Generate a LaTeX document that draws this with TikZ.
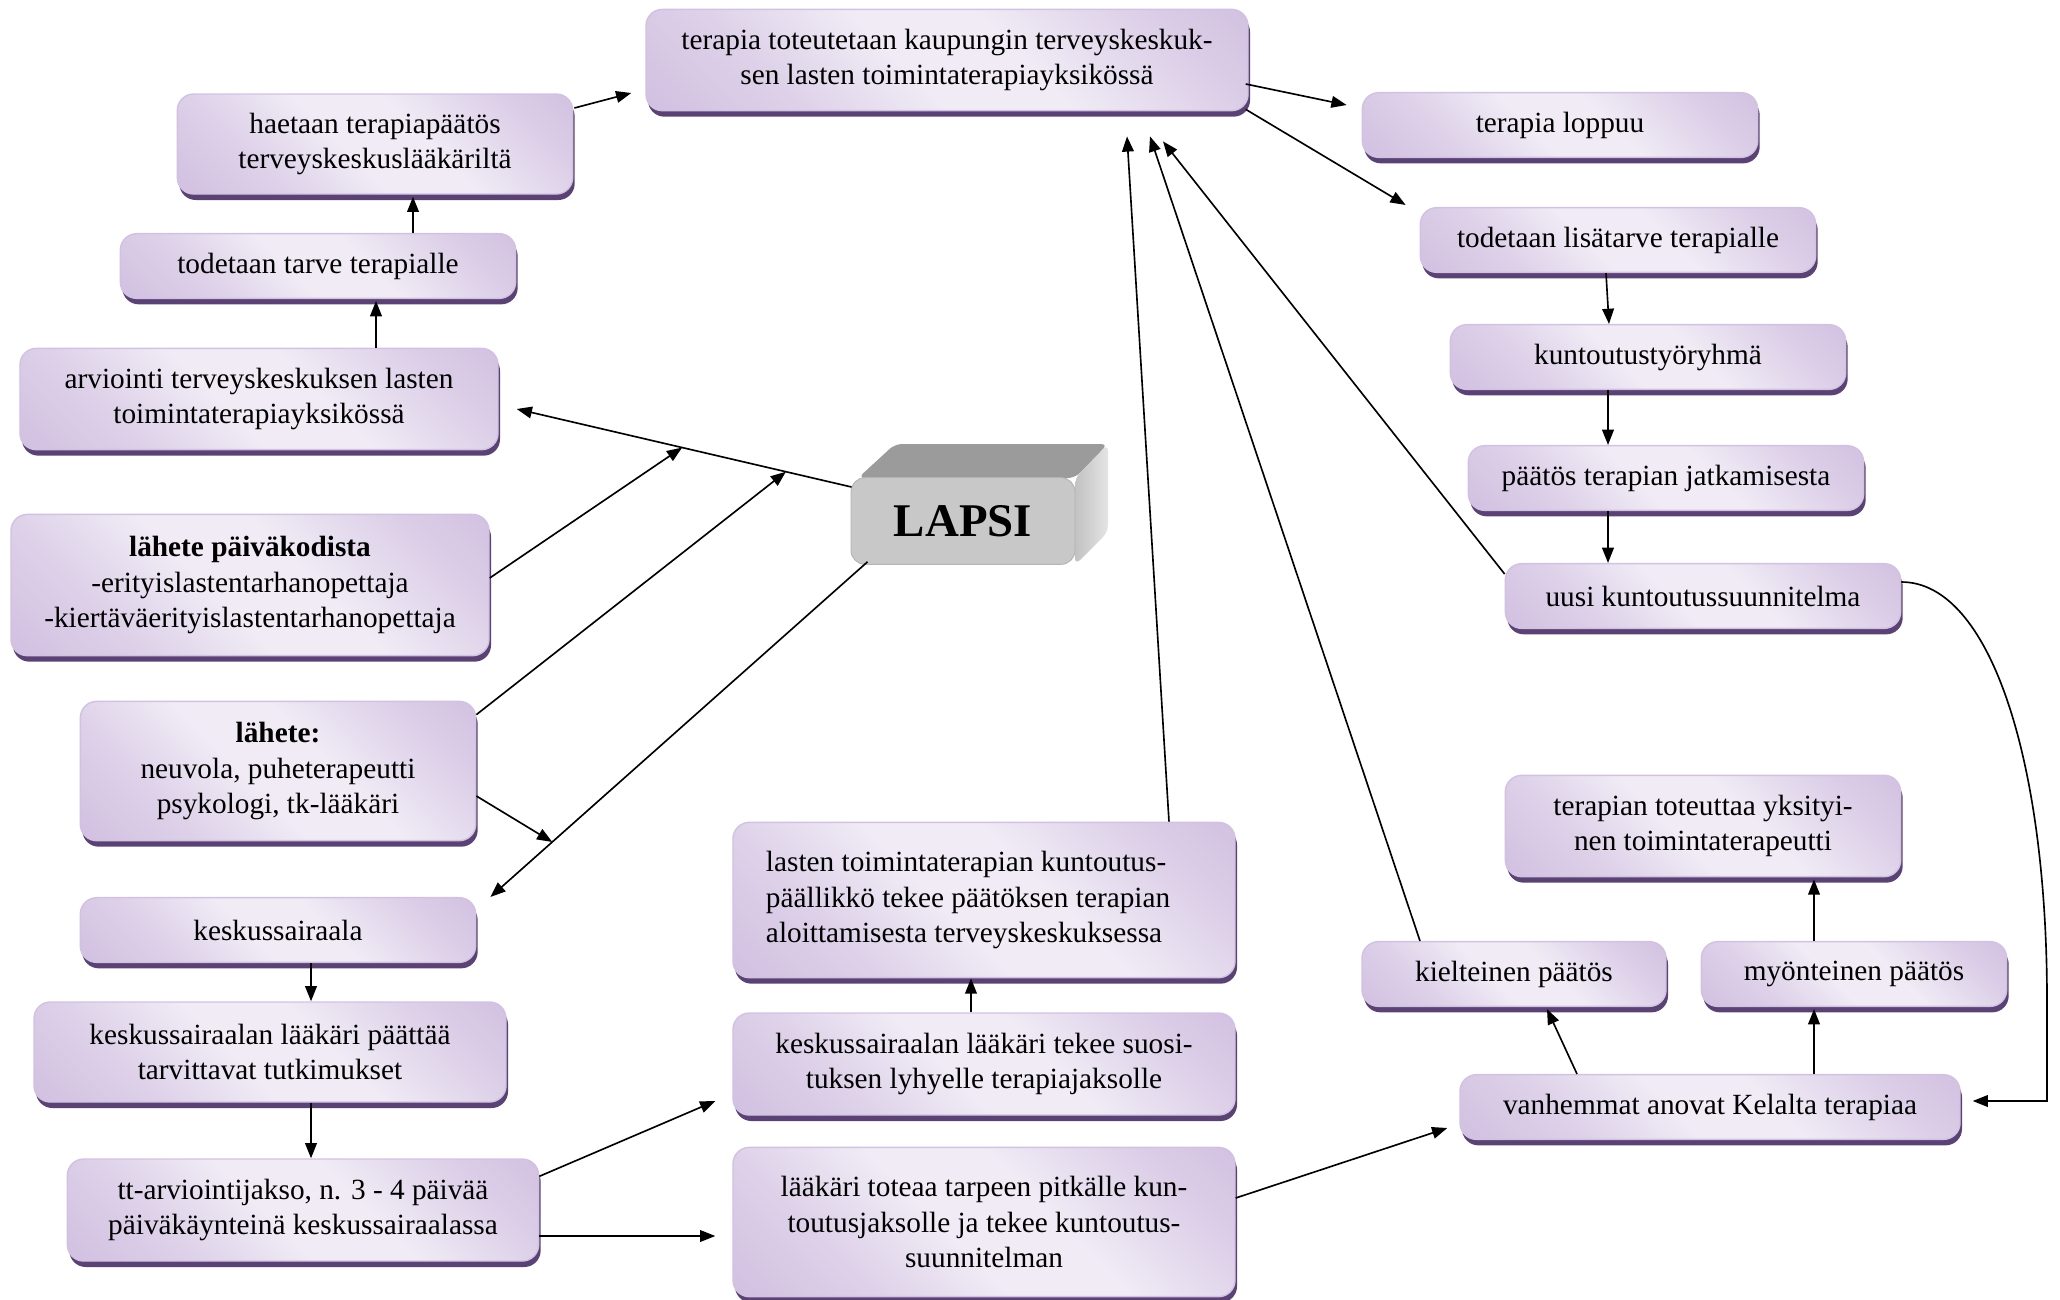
\documentclass[tikz,border=0pt]{standalone}
\usepackage{fontspec}
\setmainfont{Liberation Serif}
\usetikzlibrary{arrows.meta, positioning, calc, shadows}

\definecolor{purpdark}{HTML}{C6B0D9}
\definecolor{purplight}{HTML}{F0EBF5}
\definecolor{purpedge}{HTML}{D2C2E2}
\definecolor{purpshadow}{HTML}{5A4274}
\definecolor{lapsifront}{HTML}{C8C8C8}
\definecolor{lapsitop}{HTML}{9B9B9B}
\definecolor{lapsiside}{HTML}{E4E4E4}

\pgfdeclareverticalshading{boxshade}{100bp}{%
  color(0bp)=(purpdark); color(30bp)=(purpdark!45!purplight);
  color(45bp)=(purplight); color(58bp)=(purplight);
  color(75bp)=(purpdark!50!purplight); color(100bp)=(purpdark)}

\begin{document}
\begin{tikzpicture}[
  x=0.015cm, y=-0.015cm,
  font=\fontsize{12.5}{15}\selectfont,
  box/.style = {
    draw=purpedge, line width=0.6pt, rounded corners=7pt,
    shading=boxshade, shading angle=-45,
    drop shadow={fill=purpshadow, opacity=1, shadow xshift=0.03cm, shadow yshift=-0.09cm},
    minimum width=5.93cm, minimum height=0.97cm,
    align=center, inner sep=3pt
  },
  lapsi box/.style = {
    fill=lapsifront, draw=lapsifront!90!black, line width=0.4pt, rounded corners=6pt,
    minimum width=3.36cm, minimum height=1.3cm,
    font=\fontsize{20}{24}\selectfont\bfseries
  },
  arr/.style = {-{Triangle[length=6.5pt, width=5pt]}, line width=0.7pt},
]
\useasboundingbox (0,0) rectangle (2060,1299);

% LAPSI block
\fill[lapsitop, rounded corners=3pt] (858,478) -- (895,444) -- (1108,444) -- (1075,478) -- cycle;
\shade[left color=lapsiside!85!black, right color=lapsiside, rounded corners=3pt]
  (1075,478) -- (1108,444) -- (1108,532) -- (1075,565) -- cycle;
\node[lapsi box] (lapsi) at (963,521) {LAPSI};

% left column
\node[box] (haetaan) at (375,144) [minimum height=1.5cm]
  {haetaan terapiapäätös\\terveyskeskuslääkäriltä};
\node[box] (tarve)   at (318,266) {todetaan tarve terapialle};
\node[box] (arv)     at (259,399) [minimum width=7.17cm, minimum height=1.52cm]
  {arviointi terveyskeskuksen lasten\\toimintaterapiayksikössä};
\node[box] (paivak)  at (250,585) [minimum width=7.17cm, minimum height=2.12cm]
  {\textbf{lähete päiväkodista}\\-erityislastentarhanopettaja\\-kiertäväerityislastentarhanopettaja};
\node[box] (lahete)  at (278,771) [minimum height=2.09cm]
  {\textbf{lähete:}\\neuvola, puheterapeutti\\psykologi, tk-lääkäri};
\node[box] (kesk)    at (278,930) {keskussairaala};
\node[box] (paattaa) at (270,1052) [minimum width=7.08cm, minimum height=1.5cm]
  {keskussairaalan lääkäri päättää\\tarvittavat tutkimukset};
\node[box] (tt)      at (303,1210) [minimum width=7.07cm, minimum height=1.53cm]
  {tt-arviointijakso, n. 3 - 4 päivää\\päiväkäynteinä keskussairaalassa};

% middle column
\node[box] (top)     at (947,60) [minimum width=9.03cm, minimum height=1.52cm]
  {terapia toteutetaan kaupungin terveyskeskuk-\\sen lasten toimintaterapiayksikössä};
\node[box] (lasten)  at (984,900) [minimum width=7.53cm, minimum height=2.33cm, text width=6.54cm, align=flush left]
  {lasten toimintaterapian kuntoutus-\\päällikkö tekee päätöksen terapian\\aloittamisesta terveyskeskuksessa};
\node[box] (suosi)   at (984,1064) [minimum width=7.53cm, minimum height=1.53cm]
  {keskussairaalan lääkäri tekee suosi-\\tuksen lyhyelle terapiajaksolle};
\node[box] (toteaa)  at (984,1222) [minimum width=7.53cm, minimum height=2.24cm]
  {lääkäri toteaa tarpeen pitkälle kun-\\toutusjaksolle ja tekee kuntoutus-\\suunnitelman};

% right column
\node[box] (loppuu)  at (1560,125) {terapia loppuu};
\node[box] (lisa)    at (1618,240) {todetaan lisätarve terapialle};
\node[box] (kunt)    at (1648,357) {kuntoutustyöryhmä};
\node[box] (paatos)  at (1666,478) {päätös terapian jatkamisesta};
\node[box] (uusi)    at (1703,596) {uusi kuntoutussuunnitelma};
\node[box] (yksit)   at (1703,826) [minimum height=1.52cm]
  {terapian toteuttaa yksityi-\\nen toimintaterapeutti};
\node[box] (kielt)   at (1514,974) [minimum width=4.56cm] {kielteinen päätös};
\node[box] (myont)   at (1854,974) [minimum width=4.58cm] {myönteinen päätös};
\node[box] (vanh)    at (1710,1107) [minimum width=7.5cm] {vanhemmat anovat Kelalta terapiaa};

% points on the LAPSI lines
\coordinate (la)   at ($(lapsi.west)+(1,-34)$);
\coordinate (laE)  at ($(arv.east)+(18,10)$);
\coordinate (ld)   at ($(lapsi.south west)+(17,-3)$);
\coordinate (ldE)  at ($(kesk.north east)+(14,0)$);
\coordinate (mb)   at ($(la)!0.506!(laE)$);
\coordinate (mc)   at ($(la)!0.196!(laE)$);
\coordinate (me)   at ($(ld)!0.836!(ldE)$);
\coordinate (bend) at (2047,1101);

% arrows
\draw[arr] (la) -- (laE);
\draw[arr] (ld) -- (ldE);
\draw[arr] ($(paivak.east)+(0,-7)$) -- (mb);
\draw[arr] ($(lahete.north east)+(0,14)$) -- (mc);
\draw[arr] ($(lahete.east)+(0,25)$) -- (me);

\draw[arr] ($(arv.north)+(117,0)$) -- ($(tarve.south)+(58,2)$);
\draw[arr] ($(tarve.north)+(95,0)$) -- ($(haetaan.south)+(38,2)$);
\draw[arr] ($(haetaan.east)+(1,-36)$) -- ($(top.west)+(-14,33)$);

\draw[arr] ($(kesk.south)+(33,0)$) -- ($(paattaa.north)+(41,0)$);
\draw[arr] ($(paattaa.south)+(41,0)$) -- ($(tt.north)+(8,0)$);
\draw[arr] ($(tt.north east)+(0,18)$) -- ($(suosi.west)+(-17,37)$);
\draw[arr] ($(tt.east)+(0,26)$) -- ($(toteaa.west)+(-17,14)$);
\draw[arr] ($(suosi.north)+(-13,0)$) -- ($(lasten.south)+(-13,0)$);

\draw[arr] ($(lasten.north)+(185,0)$) -- ($(top.south)+(180,25)$);
\draw[arr] ($(kielt.north)+(-94,0)$) -- ($(top.south)+(203,25)$);
\draw[arr] ($(uusi.west)+(0,-22)$) -- ($(top.south)+(216,30)$);

\draw[arr] ($(top.east)+(-3,24)$) -- ($(loppuu.west)+(-15,-20)$);
\draw[arr] ($(top.south east)+(-3,-2)$) -- ($(lisa.north west)+(-14,-2)$);
\draw[arr] ($(lisa.south)+(-12,0)$) -- ($(kunt.north)+(-39,0)$);
\draw[arr] ($(kunt.south)+(-40,0)$) -- ($(paatos.north)+(-58,0)$);
\draw[arr] ($(paatos.south)+(-58,0)$) -- ($(uusi.north)+(-95,0)$);
\draw[arr] ($(uusi.east)+(0,-14)$) .. controls (1990,582) and (2047,760) .. (2047,1000)
  -- (bend) -- ($(vanh.east)+(12,-6)$);

\draw[arr] ($(toteaa.east)+(0,-24)$) -- ($(vanh.west)+(-12,21)$);
\draw[arr] ($(vanh.north)+(-133,0)$) -- ($(kielt.south)+(33,2)$);
\draw[arr] ($(vanh.north)+(104,0)$) -- ($(myont.south)+(-40,2)$);
\draw[arr] ($(myont.north)+(-40,0)$) -- ($(yksit.south)+(111,2)$);

\end{tikzpicture}
\end{document}
